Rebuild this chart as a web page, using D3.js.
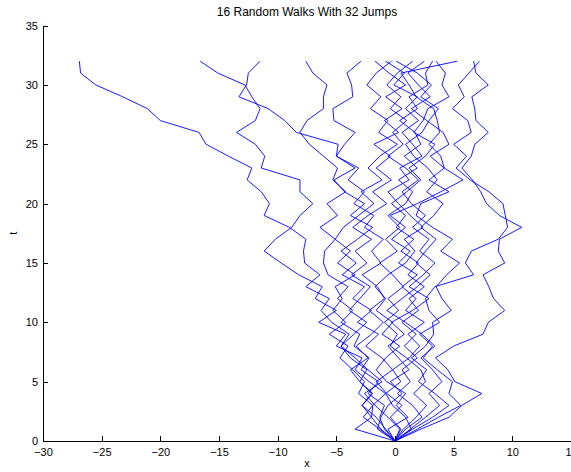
<!DOCTYPE html>
<html>
<head>
<meta charset="utf-8">
<script src="https://cdn.jsdelivr.net/npm/d3@7"></script>
<style>
  body { margin: 0; background: #fff; }
  svg { display: block; }
  text { font-family: "Liberation Sans", Arial, Helvetica, sans-serif; }
</style>
</head>
<body>
<svg id="chart" width="571" height="472"></svg>
<script>
// jump index (vertical axis)
const jumps = [0,1,2,3,4,5,6,7,8,9,10,11,12,13,14,15,16,17,18,19,20,21,22,23,24,25,26,27,28,29,30,31,32];

// position x after each jump, one array per walk
const walk01 = [0,-0.8,-1.6,-2.8,-1.9,-3.0,-2.4,-3.8,-4.6,-3.9,-5.4,-6.3,-5.6,-7.6,-6.4,-7.7,-7.8,-7.6,-9.0,-11.15,-10.7,-11.4,-12.6,-12.2,-14.2,-16.1,-16.7,-20.0,-21.1,-23.2,-25.5,-26.8,-26.9];
const walk02 = [0,-3.4,-2.0,-1.9,-0.8,-2.2,-3.4,-2.8,-5.0,-4.2,-6.5,-5.0,-6.8,-6.2,-8.2,-9.7,-11.15,-10.2,-8.8,-8.1,-7.0,-8.1,-8.1,-11.4,-11.1,-11.9,-13.5,-11.9,-11.5,-12.2,-12.8,-15.1,-16.6];
const walk03 = [0,0.5,-0.4,0.6,-0.7,-1.6,-0.2,-1.1,-2.5,-1.4,-3.2,-2.0,-3.6,-2.6,-4.5,-3.3,-4.6,-3.2,-1.9,-3.8,-2.6,-4.3,-5.2,-3.4,-5.0,-4.85,-8.4,-9.4,-10.8,-13.3,-12.65,-12.5,-11.5];
const walk04 = [0,-0.9,-1.3,-0.9,-2.3,-1.4,-2.9,-2.2,-3.5,-3.0,-4.6,-3.6,-4.9,-4.0,-5.7,-6.1,-6.0,-5.1,-6.4,-4.9,-5.8,-4.2,-5.3,-4.9,-6.1,-7.3,-8.1,-7.5,-6.1,-6.1,-5.8,-7.0,-7.6];
const walk05 = [0,2.2,4.6,5.7,7.4,5.1,4.5,3.45,5.0,7.5,7.95,9.35,8.4,8.0,7.5,9.35,8.8,8.9,10.8,8.9,7.8,7.3,6.6,5.7,6.5,6.8,7.95,6.9,6.8,6.55,7.95,6.9,6.7];
const walk06 = [0,1.9,3.7,5.6,4.6,4.9,3.6,2.4,3.2,2.1,3.8,2.9,2.6,3.4,6.7,6.0,6.5,8.8,9.6,9.4,9.2,8.0,6.4,5.2,6.1,5.0,6.5,6.2,4.9,5.9,5.4,6.3,7.2];
const walk07 = [0,-1.2,-2.0,-2.8,-2.0,-3.0,-3.8,-2.3,-3.3,-2.0,-1.0,-2.2,-0.9,-1.5,-2.8,-1.2,-2.0,-1.0,-2.6,-1.8,-3.5,-2.6,-4.0,-3.1,-5.0,-4.3,-3.4,-5.2,-5.3,-3.6,-3.7,-4.1,-2.9];
const walk08 = [0,1.5,3.2,4.6,3.4,2.0,2.7,1.4,2.6,3.3,3.2,4.8,4.0,3.5,4.4,5.5,3.9,4.9,3.2,1.8,2.2,4.6,2.9,4.2,3.9,2.9,3.8,3.6,3.3,1.8,1.2,0.5,5.3];
const walk09 = [0,0.9,2.3,1.5,0.2,1.3,0.6,1.9,0.8,1.8,0.6,2.0,1.2,2.5,1.1,2.0,0.5,1.6,0.1,0.9,-0.3,1.0,2.2,1.2,2.6,3.4,1.6,2.4,2.8,4.6,4.0,4.3,3.5];
const walk10 = [0,0.7,1.8,2.7,1.6,2.6,2.2,1.0,-0.4,0.2,-0.9,0.3,-0.6,0.7,-0.2,-1.3,0.2,-0.8,0.4,-0.6,0.9,1.5,0.3,1.9,0.8,2.2,1.7,0.4,1.9,1.2,2.8,2.6,3.2];
const walk11 = [0,1.4,0.9,-0.2,-0.8,0.5,-0.2,1.2,2.1,1.1,2.5,0.9,1.8,0.6,1.9,0.3,1.3,-0.3,0.9,-0.4,1.9,3.9,5.8,4.2,3.0,4.6,4.1,2.7,1.4,3.0,2.0,1.1,2.5];
const walk12 = [0,-1.5,-1.2,-0.6,0.6,-0.4,1.2,0.3,-0.6,0.8,-0.3,1.5,2.9,1.2,2.4,3.4,2.1,2.9,1.5,2.6,1.4,0.6,2.0,0.9,-0.6,0.7,-0.2,1.0,-0.4,0.5,-0.7,0.2,1.5];
const walk13 = [0,0.4,-0.6,-1.7,-2.6,-1.1,-2.3,-3.4,-4.6,-3.5,-2.4,-3.9,-3.0,-2.1,-3.7,-2.4,-3.4,-2.0,-3.6,-2.3,-0.7,-1.9,-0.3,-1.6,-0.4,-1.8,0.3,-0.9,0.6,-0.8,0.9,-0.5,-1.7];
const walk14 = [0,-0.6,1.1,0.1,0.9,-0.7,-1.6,-0.8,0.4,-1.1,-0.2,-1.6,-0.8,-1.7,-0.6,0.9,1.7,0.8,2.4,1.3,0.3,-0.6,1.2,0.4,2.3,1.5,0.6,2.0,0.9,1.9,-0.1,0.8,-0.8];
const walk15 = [0,-1.3,-2.7,-1.9,-3.1,-2.6,-3.6,-4.7,-4.0,-5.6,-4.2,-5.3,-4.5,-5.1,-3.4,-4.9,-3.8,-5.1,-4.4,-3.1,-1.8,-2.9,-1.1,-2.3,-1.3,0.2,-1.4,-0.6,-2.1,-1.2,-2.4,-1.6,-0.3];
const walk16 = [0,1.3,2.6,3.8,2.9,4.0,3.2,2.2,3.4,2.3,0.9,-0.7,0.6,1.9,3.0,1.8,2.6,3.5,2.2,3.3,4.1,2.7,3.6,2.8,1.6,0.9,2.3,2.9,3.7,2.2,3.1,1.9,0.1];

const walks = [walk01, walk02, walk03, walk04, walk05, walk06, walk07, walk08,
               walk09, walk10, walk11, walk12, walk13, walk14, walk15, walk16];

const xTicks = [-30,-25,-20,-15,-10,-5,0,5,10,15];
const yTicks = [0,5,10,15,20,25,30,35];

const titleText = "16 Random Walks With 32 Jumps";
const xLabel = "x";
const yLabel = "t";

const svg = d3.select("#chart");
const plotLeft = 43, plotRight = 571, plotTop = 25.6, plotBottom = 441;

const x = d3.scaleLinear().domain([-30, 15]).range([plotLeft, plotRight]);
const y = d3.scaleLinear().domain([0, 35]).range([plotBottom, plotTop]);

// walks
const line = d3.line()
  .x(d => x(d))
  .y((d, i) => y(jumps[i]));

svg.append("g")
  .selectAll("path")
  .data(walks)
  .join("path")
  .attr("d", line)
  .attr("fill", "none")
  .attr("stroke", "#0000ff")
  .attr("stroke-width", 0.9)
  .attr("stroke-linejoin", "miter");

// axes with inward ticks
const xAxis = d3.axisBottom(x)
  .tickValues(xTicks)
  .tickSizeInner(-5)
  .tickSizeOuter(0)
  .tickPadding(7)
  .tickFormat(d3.format("d"));

const yAxis = d3.axisLeft(y)
  .tickValues(yTicks)
  .tickSizeInner(-5)
  .tickSizeOuter(0)
  .tickPadding(5)
  .tickFormat(d3.format("d"));

const gx = svg.append("g")
  .attr("transform", `translate(0,${plotBottom})`)
  .call(xAxis);
const gy = svg.append("g")
  .attr("transform", `translate(${plotLeft},0)`)
  .call(yAxis);

[gx, gy].forEach(g => {
  g.attr("font-family", '"Liberation Sans", Arial, Helvetica, sans-serif')
   .attr("font-size", 11);
  g.selectAll("path.domain").attr("stroke", "#000").attr("stroke-width", 1)
   .attr("shape-rendering", "crispEdges");
  g.selectAll(".tick line").attr("stroke", "#000").attr("stroke-width", 1)
   .attr("shape-rendering", "crispEdges");
  g.selectAll(".tick text").attr("fill", "#000");
});

// title and axis labels
svg.append("text")
  .attr("x", (plotLeft + plotRight) / 2)
  .attr("y", 16)
  .attr("text-anchor", "middle")
  .attr("font-size", 12)
  .attr("fill", "#000")
  .text(titleText);

svg.append("text")
  .attr("x", (plotLeft + plotRight) / 2)
  .attr("y", 467)
  .attr("text-anchor", "middle")
  .attr("font-size", 11)
  .attr("fill", "#000")
  .text(xLabel);

svg.append("text")
  .attr("transform", `translate(17,${(plotTop + plotBottom) / 2}) rotate(-90)`)
  .attr("text-anchor", "middle")
  .attr("font-size", 11)
  .attr("fill", "#000")
  .text(yLabel);
</script>
</body>
</html>
